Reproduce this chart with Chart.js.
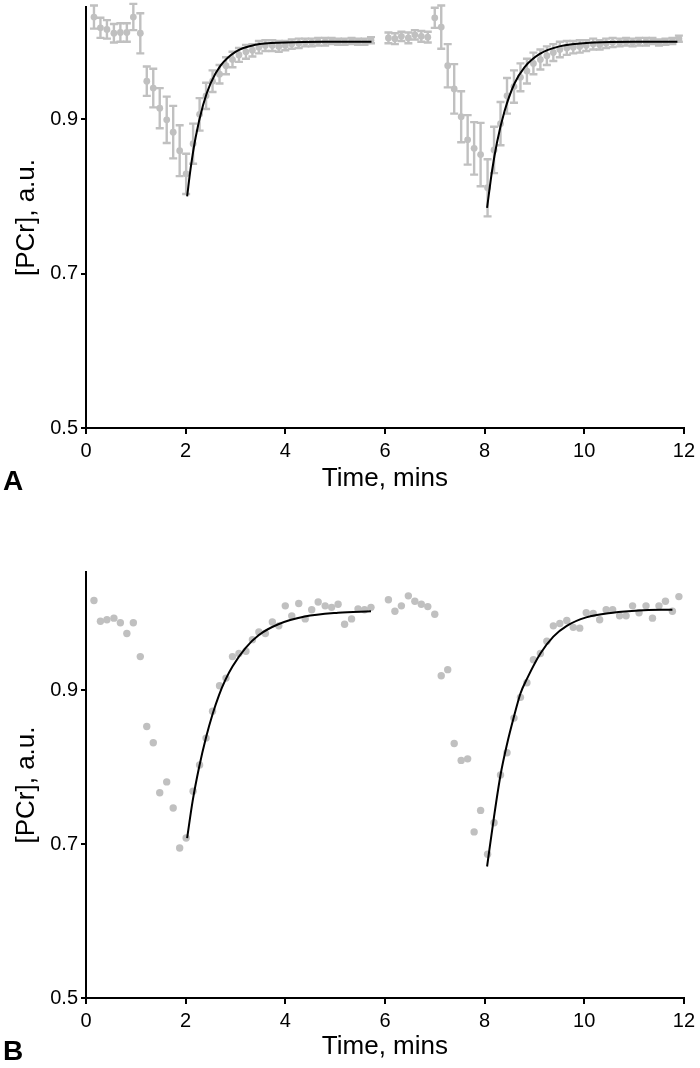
<!DOCTYPE html>
<html>
<head>
<meta charset="utf-8">
<title>PCr recovery</title>
<script src="https://cdn.jsdelivr.net/npm/chart.js@4.4.1/dist/chart.umd.min.js"></script>
<style>
    body { margin: 0; background: #fff; }
    #wrap { position: relative; width: 700px; height: 1068px; }
    canvas { position: absolute; left: 0; }
    .panel-label {
        position: absolute;
        left: 3px;
        font: bold 28px 'Liberation Sans', Arial, sans-serif;
        line-height: 28px;
        color: #000;
    }
</style>
</head>
<body>
<div id="wrap">
    <canvas id="chartA" width="700" height="500" style="top:0;width:700px;height:500px"></canvas>
    <canvas id="chartB" width="700" height="568" style="top:500px;width:700px;height:568px"></canvas>
    <div class="panel-label" style="top:467px">A</div>
    <div class="panel-label" style="top:1037px">B</div>
</div>
<script>
// time of each spectrum, mins (first and second rest-exercise-recovery block)
const timeRest1 = [0.16, 0.29, 0.42, 0.56, 0.69, 0.82, 0.95, 1.09, 1.22, 1.35,
    1.48, 1.62, 1.75, 1.88, 2.01, 2.15, 2.28, 2.41, 2.54, 2.68,
    2.81, 2.94, 3.07, 3.21, 3.34, 3.47, 3.60, 3.74, 3.87, 4.00,
    4.13, 4.27, 4.40, 4.53, 4.66, 4.80, 4.93, 5.06, 5.19, 5.33,
    5.46, 5.59, 5.72];
const timeRest2 = [6.07, 6.20, 6.33, 6.47, 6.60, 6.73, 6.86, 7.00, 7.13, 7.26,
    7.39, 7.53, 7.66, 7.79, 7.92, 8.06, 8.19, 8.32, 8.45, 8.59,
    8.72, 8.85, 8.98, 9.12, 9.25, 9.38, 9.51, 9.65, 9.78, 9.91,
    10.04, 10.18, 10.31, 10.44, 10.57, 10.71, 10.84, 10.97, 11.10, 11.24,
    11.37, 11.50, 11.63, 11.77, 11.90];

// panel A: mean [PCr] and error
const meanA1 = [1.032, 1.018, 1.016, 1.011, 1.012, 1.012, 1.032, 1.011, 0.949, 0.940,
    0.914, 0.899, 0.883, 0.859, 0.829, 0.868, 0.906, 0.930, 0.949, 0.958,
    0.969, 0.977, 0.983, 0.987, 0.989, 0.993, 0.995, 0.995, 0.994, 0.995,
    0.997, 0.998, 0.999, 0.999, 1.000, 1.000, 1.001, 1.000, 1.000, 1.001,
    1.000, 1.000, 1.002];
const errA1 = [0.015, 0.013, 0.012, 0.012, 0.012, 0.012, 0.017, 0.026, 0.019, 0.025,
    0.026, 0.030, 0.034, 0.033, 0.026, 0.026, 0.021, 0.017, 0.014, 0.012,
    0.011, 0.010, 0.009, 0.009, 0.008, 0.008, 0.007, 0.007, 0.007, 0.006,
    0.006, 0.006, 0.005, 0.005, 0.005, 0.005, 0.004, 0.004, 0.004, 0.004,
    0.004, 0.004, 0.004];
const meanA2 = [1.005, 1.004, 1.007, 1.005, 1.009, 1.007, 1.006, 1.031, 1.019, 0.969,
    0.939, 0.903, 0.873, 0.862, 0.854, 0.811, 0.860, 0.894, 0.930, 0.942,
    0.954, 0.962, 0.972, 0.977, 0.982, 0.986, 0.990, 0.992, 0.993, 0.994,
    0.995, 0.997, 0.996, 0.998, 0.999, 0.999, 1.000, 0.999, 1.000, 1.000,
    1.001, 0.999, 1.000, 1.001, 1.004];
const errA2 = [0.007, 0.007, 0.006, 0.007, 0.006, 0.007, 0.007, 0.013, 0.028, 0.028,
    0.032, 0.033, 0.032, 0.034, 0.041, 0.037, 0.030, 0.028, 0.023, 0.021,
    0.018, 0.016, 0.014, 0.013, 0.012, 0.011, 0.010, 0.009, 0.008, 0.008,
    0.007, 0.007, 0.006, 0.006, 0.006, 0.005, 0.005, 0.005, 0.005, 0.005,
    0.004, 0.004, 0.004, 0.004, 0.004];

// panel B: single subject
const pcrB1 = [1.017, 0.990, 0.992, 0.994, 0.988, 0.974, 0.988, 0.944, 0.853, 0.832,
    0.767, 0.781, 0.747, 0.695, 0.708, 0.769, 0.803, 0.838, 0.873, 0.906,
    0.916, 0.944, 0.948, 0.951, 0.966, 0.976, 0.974, 0.989, 0.984, 1.010,
    0.997, 1.013, 0.993, 1.005, 1.015, 1.010, 1.008, 1.012, 0.986, 0.993,
    1.006, 1.005, 1.008];
const pcrB2 = [1.018, 1.003, 1.010, 1.023, 1.016, 1.012, 1.009, 0.999, 0.919, 0.927,
    0.831, 0.809, 0.811, 0.716, 0.744, 0.687, 0.728, 0.790, 0.819, 0.864,
    0.891, 0.910, 0.940, 0.948, 0.964, 0.984, 0.987, 0.991, 0.982, 0.981,
    1.001, 1.000, 0.992, 1.005, 1.005, 0.997, 0.997, 1.010, 1.001, 1.010,
    0.994, 1.010, 1.016, 1.003, 1.022];

// fitted recovery curves
const fitTimeA1 = [2.03, 2.10, 2.20, 2.35, 2.50, 2.70, 3.00, 3.40, 4.00, 4.80, 5.73];
const fitA1 = [0.800, 0.836, 0.876, 0.918, 0.946, 0.969, 0.987, 0.996, 0.999, 1.000, 1.000];
const fitTimeA2 = [8.05, 8.15, 8.25, 8.40, 8.60, 8.80, 9.10, 9.50, 10.20, 11.00, 11.87];
const fitA2 = [0.785, 0.833, 0.870, 0.910, 0.946, 0.967, 0.984, 0.994, 0.999, 1.000, 1.000];
const fitTimeB1 = [2.03, 2.14, 2.27, 2.41, 2.54, 2.67, 2.80, 2.94, 3.20, 3.47, 3.86, 4.39, 5.06, 5.72];
const fitB1 = [0.708, 0.756, 0.800, 0.839, 0.869, 0.894, 0.914, 0.931, 0.955, 0.972, 0.986, 0.996, 1.001, 1.003];
const fitTimeB2 = [8.05, 8.19, 8.32, 8.45, 8.59, 8.72, 8.85, 9.12, 9.38, 9.65, 10.04, 10.57, 11.10, 11.77];
const fitB2 = [0.671, 0.736, 0.790, 0.830, 0.866, 0.896, 0.915, 0.948, 0.970, 0.984, 0.995, 1.001, 1.004, 1.005];

const xTicks = [0, 2, 4, 6, 8, 10, 12];
const yTicks = [0.5, 0.7, 0.9];

const FONT = "'Liberation Sans', Arial, sans-serif";
const GREY = '#c0c0c0';

function toPoints(xs, ys) {
    return xs.map(function (x, i) { return { x: x, y: ys[i] }; });
}

// draws vertical error bars with caps under the points
const errorBarPlugin = {
    id: 'errorBars',
    beforeDatasetsDraw: function (chart) {
        const ctx = chart.ctx;
        const xs = chart.scales.x;
        const ys = chart.scales.y;
        chart.data.datasets.forEach(function (ds) {
            if (!ds.errorBars) return;
            ctx.save();
            ctx.strokeStyle = GREY;
            ctx.lineWidth = 2.4;
            ds.data.forEach(function (p, i) {
                const e = ds.errorBars[i];
                const px = xs.getPixelForValue(p.x);
                const top = ys.getPixelForValue(p.y + e);
                const bot = ys.getPixelForValue(p.y - e);
                ctx.beginPath();
                ctx.moveTo(px, top);
                ctx.lineTo(px, bot);
                ctx.moveTo(px - 4, top);
                ctx.lineTo(px + 4, top);
                ctx.moveTo(px - 4, bot);
                ctx.lineTo(px + 4, bot);
                ctx.stroke();
            });
            ctx.restore();
        });
    }
};

function renderPanel(elementId, points, errors, fits, opts) {
    var ctx = document.getElementById(elementId).getContext('2d');

    var datasets = fits.map(function (f) {
        return {
            type: 'line',
            data: f,
            borderColor: '#000',
            borderWidth: 2,
            pointRadius: 0,
            fill: false,
            cubicInterpolationMode: 'monotone',
            order: 0
        };
    });
    datasets.push({
        type: 'scatter',
        data: points,
        errorBars: errors,
        backgroundColor: GREY,
        borderColor: GREY,
        borderWidth: 0,
        pointRadius: opts.pointRadius,
        clip: false,
        order: 1
    });

    new Chart(ctx, {
        type: 'scatter',
        data: { datasets: datasets },
        plugins: [errorBarPlugin],
        options: {
            responsive: false,
            maintainAspectRatio: false,
            animation: false,
            layout: { padding: { top: opts.padTop, right: 16, left: 0, bottom: 0 } },
            plugins: {
                legend: { display: false },
                tooltip: { enabled: false }
            },
            scales: {
                x: {
                    type: 'linear',
                    min: 0,
                    max: 12,
                    afterBuildTicks: function (scale) {
                        scale.ticks = xTicks.map(function (v) { return { value: v }; });
                    },
                    afterFit: function (scale) { scale.height = opts.xHeight; },
                    ticks: {
                        color: '#000',
                        padding: 5,
                        maxRotation: 0,
                        font: { family: FONT, size: 20 }
                    },
                    grid: { drawOnChartArea: false, drawTicks: true, tickLength: 6, color: '#000', lineWidth: 2 },
                    border: { display: true, color: '#000', width: 2 },
                    title: {
                        display: true,
                        text: 'Time, mins',
                        color: '#000',
                        font: { family: FONT, size: 26 },
                        padding: { top: 0, bottom: 6 }
                    }
                },
                y: {
                    type: 'linear',
                    min: 0.5,
                    max: opts.yMax,
                    afterBuildTicks: function (scale) {
                        scale.ticks = yTicks.map(function (v) { return { value: v }; });
                    },
                    afterFit: function (scale) {
                        scale.width = 86;
                        // no tick label sits at the top, so drop the label padding
                        scale.paddingTop = 0;
                        scale.paddingBottom = 0;
                    },
                    ticks: {
                        color: '#000',
                        padding: 3,
                        font: { family: FONT, size: 20 },
                        callback: function (v) { return Number(v).toFixed(1); }
                    },
                    grid: { drawOnChartArea: false, drawTicks: true, tickLength: 5, color: '#000', lineWidth: 2 },
                    border: { display: true, color: '#000', width: 2 },
                    title: {
                        display: true,
                        text: '[PCr], a.u.',
                        color: '#000',
                        font: { family: FONT, size: 26 },
                        padding: { top: 11, bottom: 0 }
                    }
                }
            }
        }
    });
}

document.addEventListener('DOMContentLoaded', function () {
    renderPanel('chartA',
        toPoints(timeRest1.concat(timeRest2), meanA1.concat(meanA2)),
        errA1.concat(errA2),
        [toPoints(fitTimeA1, fitA1), toPoints(fitTimeA2, fitA2)],
        { yMax: 1.045, padTop: 7, xHeight: 72, pointRadius: 3.4 });

    renderPanel('chartB',
        toPoints(timeRest1.concat(timeRest2), pcrB1.concat(pcrB2)),
        null,
        [toPoints(fitTimeB1, fitB1), toPoints(fitTimeB2, fitB2)],
        { yMax: 1.054, padTop: 72, xHeight: 70, pointRadius: 3.7 });
});
</script>
</body>
</html>
